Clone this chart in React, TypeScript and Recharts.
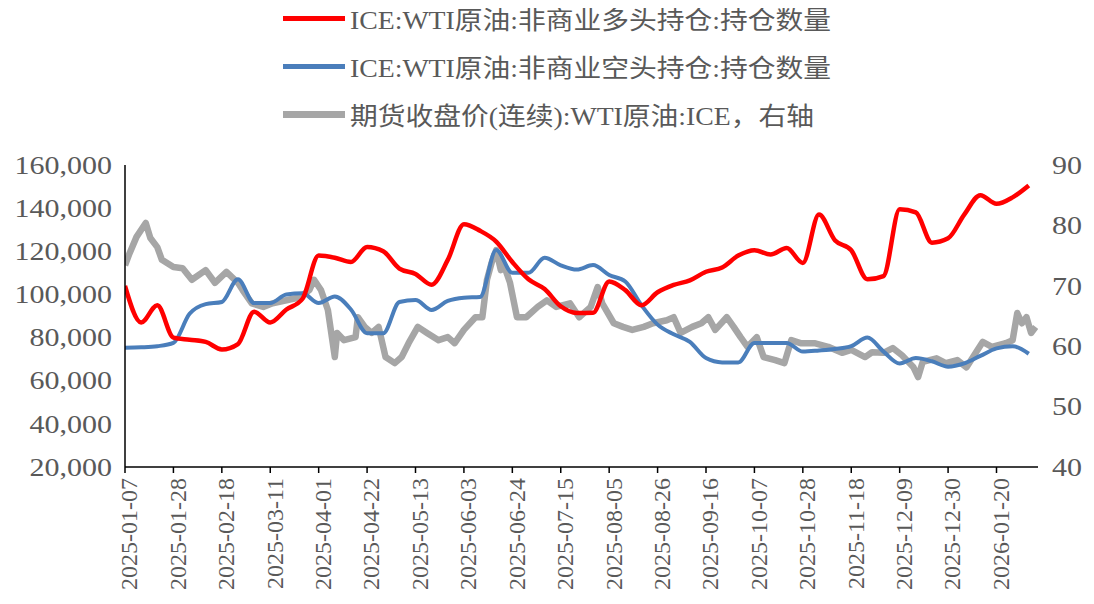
import { LineChart, Line, XAxis, YAxis } from "recharts";

// ─── Data ─────────────────────────────────────────────────────────────────────

const START = Date.UTC(2025, 0, 7);
const DAY = 86400000;
const dayOf = (s: string) => Math.round((Date.parse(s) - START) / DAY);

const tickDates = [
  "2025-01-07", "2025-01-28", "2025-02-18", "2025-03-11", "2025-04-01",
  "2025-04-22", "2025-05-13", "2025-06-03", "2025-06-24", "2025-07-15",
  "2025-08-05", "2025-08-26", "2025-09-16", "2025-10-07", "2025-10-28",
  "2025-11-18", "2025-12-09", "2025-12-30", "2026-01-20",
];

// weekly COT reports, every Tuesday from 2025-01-07
const longPositions = [
  104000, 87000, 95000, 80000, 79000, 78000, 74500, 77000, 92000, 87000,
  93000, 98000, 118000, 117000, 115000, 122000, 120000, 112000, 109500, 104500,
  116000, 132500, 129500, 124500, 115000, 107000, 102500, 94500, 91400, 91500,
  106000, 102000, 95000, 101000, 104400, 106500, 110500, 112500, 118000, 120500,
  118500, 121500, 114600, 137000, 125000, 120500, 107000, 108500, 139500, 138000,
  124000, 126000, 137000, 146000, 142000, 145000, 150500,
];

const shortPositions = [
  75300, 75500, 76000, 77500, 91000, 95500, 96500, 107000, 96000, 96000,
  100000, 100500, 96000, 99000, 93000, 82000, 82000, 96500, 97400, 92800,
  97000, 98500, 98800, 120600, 110000, 110000, 117000, 113500, 111500, 113600,
  109000, 106000, 95000, 86000, 81500, 78000, 70500, 68500, 68500, 77500,
  77500, 77500, 73500, 74000, 74700, 76000, 80000, 73500, 68000, 70500,
  69000, 66500, 68000, 71500, 75000, 76000, 72500,
];

// WTI close (continuous), days since 2025-01-07
const priceDays = [
  0, 2, 5, 9, 11, 14, 16, 21, 25, 29, 35, 39, 44, 49, 51, 55, 60, 64, 70, 76,
  80, 82, 85, 88, 91, 92, 95, 100, 101, 104, 107, 110, 113, 117, 120, 123, 127, 131, 136, 140,
  143, 147, 152, 155, 157, 159, 161, 163, 164, 167, 170, 174, 179, 183, 187, 193, 197, 202, 205, 207,
  212, 216, 220, 225, 229, 235, 238, 241, 246, 250, 253, 256, 261, 264, 267, 270, 274, 277, 282, 286,
  289, 293, 299, 305, 311, 315, 321, 324, 329, 333, 337, 342, 344, 346, 352, 356, 361, 365, 369, 372,
  376, 382, 385, 387, 389, 391, 393, 395,
];

const priceValues = [
  73.4, 75.4, 78.1, 80.4, 77.9, 76.4, 74.3, 73.1, 72.9, 71.0, 72.6, 70.5, 72.3, 70.5, 69.3, 67.1, 66.5, 67.1, 67.6, 68.1,
  69.3, 71.0, 69.3, 66.0, 58.2, 62.2, 61.0, 61.5, 64.8, 63.2, 62.2, 63.2, 58.2, 57.2, 58.2, 60.5, 63.2, 62.2, 61.0, 61.5,
  60.5, 62.7, 64.8, 64.8, 71.0, 73.8, 75.9, 72.6, 73.8, 70.5, 64.8, 64.8, 66.5, 67.6, 66.5, 67.1, 64.8, 66.5, 69.8, 67.1,
  63.8, 63.2, 62.7, 63.2, 63.8, 64.3, 64.8, 62.2, 63.2, 63.8, 64.8, 62.7, 64.8, 63.2, 61.5, 59.9, 61.5, 58.2, 57.7, 57.2,
  61.0, 60.5, 60.5, 59.9, 58.9, 59.4, 58.2, 59.0, 58.9, 59.7, 58.5, 56.5, 54.9, 57.4, 58.0, 57.2, 57.7, 56.5, 58.9, 60.7,
  59.9, 60.5, 61.0, 65.5, 63.8, 64.8, 62.2, 63.2,
];

const leftTicks = [20000, 40000, 60000, 80000, 100000, 120000, 140000, 160000];
const rightTicks = [40, 50, 60, 70, 80, 90];

const LEGEND = [
  { label: "ICE:WTI原油:非商业多头持仓:持仓数量", color: "#FF0000", h: 5 },
  { label: "ICE:WTI原油:非商业空头持仓:持仓数量", color: "#4A7EBB", h: 5 },
  { label: "期货收盘价(连续):WTI原油:ICE，右轴", color: "#A6A6A6", h: 7 },
];

// ─── Helpers ──────────────────────────────────────────────────────────────────

const FONT = "'Liberation Serif', 'Noto Sans CJK SC', serif";
const TXT = "#595959";
const SX = 1.2;

const cotRows = longPositions.map((v, i) => ({ day: i * 7, long: v, short: shortPositions[i] }));
const priceRows = priceDays.map((d, i) => ({ day: d, price: priceValues[i] }));
const xTicks = tickDates.map(dayOf);

function LeftTick({ x, y, payload }: any) {
  return (
    <text x={x} y={y} dy="0.35em" textAnchor="end" fontSize={25} fontFamily={FONT} fill={TXT}
      transform={`translate(${x} 0) scale(${SX} 1) translate(${-x} 0)`}>
      {payload.value.toLocaleString("en-US")}
    </text>
  );
}

function RightTick({ x, y, payload }: any) {
  return (
    <text x={x} y={y} dy="0.35em" textAnchor="start" fontSize={25} fontFamily={FONT} fill={TXT}
      transform={`translate(${x} 0) scale(${SX} 1) translate(${-x} 0)`}>
      {payload.value}
    </text>
  );
}

function DateTick({ x, y, payload }: any) {
  const i = xTicks.indexOf(payload.value);
  return (
    <g transform={`translate(${x + 4},${y})`}>
      <text transform="rotate(-90)" textAnchor="end" dy="0.35em" fontSize={24} fontFamily={FONT} fill={TXT}>
        {tickDates[i]}
      </text>
    </g>
  );
}

// ─── Main ─────────────────────────────────────────────────────────────────────

export default function App() {
  return (
    <div style={{ position: "relative", width: 1078, height: 588 }}>
      <LineChart width={1078} height={588} margin={{ top: 157, right: 0, left: 0, bottom: 0 }}>
        <XAxis
          dataKey="day" type="number" domain={[0, 396]} ticks={xTicks} interval={0}
          height={129} tick={<DateTick />} tickSize={6} tickMargin={5}
          axisLine={{ stroke: "#000", strokeWidth: 1.5 }} tickLine={{ stroke: "#000", strokeWidth: 1.5 }}
          allowDataOverflow
        />
        <YAxis
          yAxisId="left" orientation="left" width={117} domain={[20000, 160000]} ticks={leftTicks}
          interval={0} tick={<LeftTick />} tickSize={0} tickMargin={13}
          axisLine={{ stroke: "#000", strokeWidth: 1.5 }} tickLine={false}
        />
        <YAxis
          yAxisId="right" orientation="right" width={48} domain={[40, 90]} ticks={rightTicks}
          interval={0} tick={<RightTick />} tickSize={0} tickMargin={14}
          axisLine={false} tickLine={false}
        />
        <Line yAxisId="right" data={priceRows} dataKey="price" type="linear" stroke="#A6A6A6"
          strokeWidth={6.5} dot={false} isAnimationActive={false} strokeLinejoin="round" />
        <Line yAxisId="left" data={cotRows} dataKey="short" type="monotone" stroke="#4A7EBB"
          strokeWidth={4} dot={false} isAnimationActive={false} />
        <Line yAxisId="left" data={cotRows} dataKey="long" type="monotone" stroke="#FF0000"
          strokeWidth={4.5} dot={false} isAnimationActive={false} />
      </LineChart>

      {/* Legend */}
      <div style={{ position: "absolute", left: 275, top: -5 }}>
        {LEGEND.map((l) => (
          <div key={l.label} style={{ display: "flex", alignItems: "center", height: 30, marginBottom: 18 }}>
            <div style={{ width: 62, height: l.h, background: l.color, marginRight: 5 }} />
            <span style={{
              fontSize: 25, fontFamily: FONT, color: TXT, whiteSpace: "nowrap",
              transform: "scaleX(1.11)", transformOrigin: "left center", display: "inline-block",
            }}>
              {l.label}
            </span>
          </div>
        ))}
      </div>
    </div>
  );
}
